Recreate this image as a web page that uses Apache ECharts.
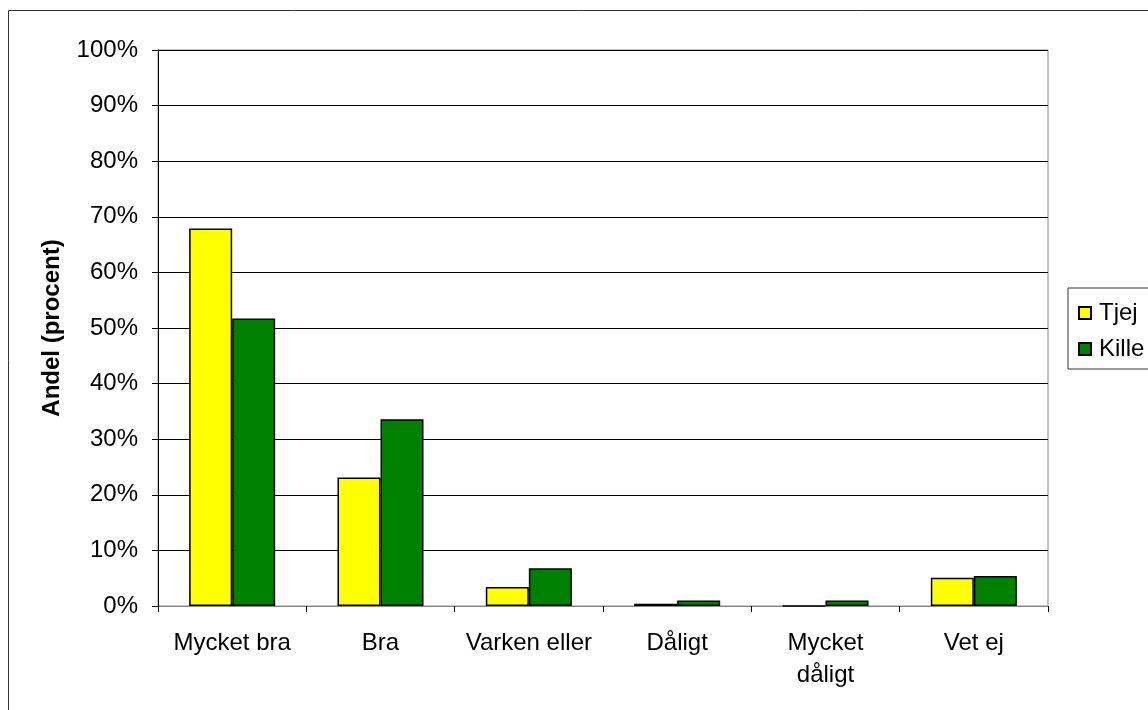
<!DOCTYPE html>
<html>
<head>
<meta charset="utf-8">
<script src="https://cdn.jsdelivr.net/npm/echarts@6/dist/echarts.min.js"></script>
<style>
  html, body { margin: 0; padding: 0; background: #fff; }
  #chart { width: 1148px; height: 710px; }
</style>
</head>
<body>
<div id="chart"></div>
<script>
// data
const categories = ['Mycket bra', 'Bra', 'Varken eller', 'Dåligt', 'Mycket\ndåligt', 'Vet ej']
const tjej = [67.9, 23.1, 3.4, 0.4, 0, 5.1]
const kille = [51.7, 33.6, 6.8, 1.0, 1.0, 5.4]
const seriesNames = ['Tjej', 'Kille']

const font = 'Liberation Sans, Arial, sans-serif'
const chart = echarts.init(document.getElementById('chart'))

const barStyle = (color) => ({
  color: color,
  borderColor: '#000',
  borderWidth: 1.5
})

chart.setOption({
  animation: false,
  textStyle: { fontFamily: font },
  graphic: [
    {
      // outer chart frame, only left and top edges fall inside the picture
      type: 'rect',
      shape: { x: 8.5, y: 10.5, width: 1300, height: 900 },
      style: { fill: 'none', stroke: '#333', lineWidth: 1 },
      silent: true
    }
  ],
  grid: {
    left: 158,
    top: 50,
    width: 890,
    height: 556,
    show: true,
    borderColor: '#888',
    borderWidth: 1
  },
  legend: {
    orient: 'vertical',
    left: 1068,
    top: 288,
    data: seriesNames,
    icon: 'rect',
    itemWidth: 12,
    itemHeight: 12,
    itemGap: 12,
    padding: [13, 40, 8, 10],
    borderColor: '#333',
    borderWidth: 1,
    textStyle: { fontSize: 24, color: '#000', fontFamily: font, padding: [0, 0, 0, 3] }
  },
  xAxis: {
    type: 'category',
    data: categories,
    axisLine: { lineStyle: { color: '#888', width: 1 } },
    axisTick: { show: true, length: 6, lineStyle: { color: '#000' } },
    axisLabel: {
      interval: 0,
      margin: 21,
      fontSize: 24,
      lineHeight: 32,
      color: '#000',
      fontFamily: font
    },
    splitLine: { show: false }
  },
  yAxis: {
    type: 'value',
    min: 0,
    max: 100,
    interval: 10,
    name: 'Andel (procent)',
    nameLocation: 'middle',
    nameGap: 94,
    nameRotate: 90,
    nameTextStyle: { fontSize: 24, fontWeight: 'bold', color: '#000', fontFamily: font },
    axisLine: { show: true, lineStyle: { color: '#000', width: 1 } },
    axisTick: { show: true, length: 6, lineStyle: { color: '#000' } },
    axisLabel: {
      formatter: '{value}%',
      margin: 20,
      fontSize: 24,
      color: '#000',
      fontFamily: font
    },
    splitLine: { show: true, lineStyle: { color: '#000', width: 1 } }
  },
  series: [
    {
      name: seriesNames[0],
      type: 'bar',
      data: tjej,
      barGap: '0%',
      barCategoryGap: '42%',
      itemStyle: barStyle('#ffff00')
    },
    {
      name: seriesNames[1],
      type: 'bar',
      data: kille,
      itemStyle: barStyle('#008000')
    }
  ]
})
</script>
</body>
</html>
